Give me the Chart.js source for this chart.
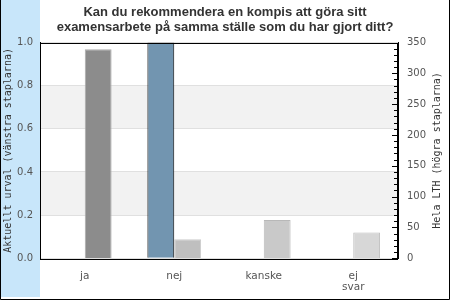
<!DOCTYPE html>
<html>
<head>
<meta charset="utf-8">
<script src="https://cdn.jsdelivr.net/npm/chart.js@4"></script>
<style>
  html, body { margin: 0; padding: 0; background: #fff; }
  #wrap { width: 450px; height: 300px; }
</style>
</head>
<body>
<div id="wrap"><canvas id="c" width="450" height="300"></canvas></div>
<script>
const categories = ['ja', 'nej', 'kanske', ['ej', 'svar']];
const currentValues = [0, 1.0, 0, 0];          // Aktuellt urval (left axis)
const lthValues = [339, 31, 62, 42];           // Hela LTH (right axis)
const leftTicks = [0, 0.2, 0.4, 0.6, 0.8, 1.0];
const rightTicks = [0, 50, 100, 150, 200, 250, 300, 350];
const titleLines = ['Kan du rekommendera en kompis att göra sitt', 'examensarbete på samma ställe som du har gjort ditt?'];
const leftTitle = 'Aktuellt urval (vänstra staplarna)';
const rightTitle = 'Hela LTH (högra staplarna)';

const lthColors = ['#8c8c8c', '#bfbfbf', '#c9c9c9', '#d7d7d7'];
const lthBorders = ['#aaaaaa', '#cccccc', '#b8b8b8', '#bdbdbd'];

const decor = {
  id: 'decor',
  beforeDraw(chart) {
    const ctx = chart.ctx;
    ctx.save();
    ctx.fillStyle = '#fff';
    ctx.fillRect(0, 0, 450, 300);
    ctx.fillStyle = '#c8e6fa';
    ctx.fillRect(1, 0, 39, 297);
    ctx.strokeStyle = '#000';
    ctx.lineWidth = 1;
    ctx.beginPath();
    ctx.moveTo(0.5, 0); ctx.lineTo(0.5, 299.5);
    ctx.lineTo(449.5, 299.5); ctx.lineTo(449.5, 0);
    ctx.stroke();
    const a = chart.chartArea, y = chart.scales.y;
    ctx.fillStyle = '#f2f2f2';
    [[0.2, 0.4], [0.6, 0.8]].forEach(([lo, hi]) => {
      const y1 = y.getPixelForValue(hi), y2 = y.getPixelForValue(lo);
      ctx.fillRect(a.left, y1, a.right - a.left, y2 - y1);
    });
    ctx.restore();
  },
  afterDraw(chart) {
    const ctx = chart.ctx;
    const a = chart.chartArea, y2 = chart.scales.y2;
    ctx.save();
    ctx.strokeStyle = '#000';
    ctx.lineWidth = 1;
    ctx.strokeRect(Math.round(a.left) + 0.5, Math.round(a.top) + 0.5, Math.round(a.right - a.left) - 1, Math.round(a.bottom - a.top));
    ctx.beginPath();
    for (let v = 0; v <= y2.max; v += 10) {
      const py = Math.round(y2.getPixelForValue(v)) + 0.5;
      const len = (v % 50 === 0) ? 6 : 4;
      ctx.moveTo(Math.round(a.right) - len, py);
      ctx.lineTo(Math.round(a.right), py);
    }
    ctx.stroke();
    ctx.translate(437, (a.top + a.bottom) / 2);
    ctx.rotate(-Math.PI / 2);
    ctx.font = '10px "DejaVu Sans Mono"';
    ctx.fillStyle = '#333';
    ctx.textAlign = 'center';
    ctx.textBaseline = 'middle';
    ctx.fillText(rightTitle, 0, 0);
    ctx.restore();
  }
};

new Chart(document.getElementById('c'), {
  type: 'bar',
  data: {
    labels: categories,
    datasets: [
      {
        label: leftTitle,
        data: currentValues,
        yAxisID: 'y',
        backgroundColor: '#7295b0',
        borderColor: '#000',
        borderWidth: ctx => (ctx.raw > 0 ? 1 : 0),
        borderSkipped: 'bottom'
      },
      {
        label: rightTitle,
        data: lthValues,
        yAxisID: 'y2',
        backgroundColor: lthColors,
        borderColor: lthBorders,
        borderWidth: 1,
        borderSkipped: 'bottom'
      }
    ]
  },
  plugins: [decor],
  options: {
    responsive: false,
    animation: false,
    devicePixelRatio: 1,
    categoryPercentage: 0.6,
    barPercentage: 1.0,
    layout: { padding: 0 },
    plugins: {
      legend: { display: false },
      tooltip: { enabled: false },
      title: {
        display: true,
        text: titleLines,
        color: '#333',
        font: { family: '"Liberation Sans", Arial, sans-serif', size: 13, weight: 'bold', lineHeight: '15px' },
        padding: { top: 5, bottom: 7.5 }
      }
    },
    scales: {
      x: {
        grid: { display: false, drawTicks: false },
        border: { display: false },
        ticks: {
          color: '#555',
          font: { family: 'DejaVu Sans', size: 10.5, lineHeight: '10.5px' },
          padding: 13,
          maxRotation: 0,
          autoSkip: false
        },
        afterFit(s) { s.height = 41.7; }
      },
      y: {
        position: 'left',
        min: 0, max: 1,
        afterBuildTicks(s) { s.ticks = leftTicks.map(v => ({ value: v })); },
        grid: { color: '#e0e0e0', drawTicks: false },
        border: { color: '#000' },
        ticks: {
          color: '#555',
          font: { family: 'DejaVu Sans', size: 10 },
          padding: 7,
          callback: v => v.toFixed(1)
        },
        title: {
          display: true,
          text: leftTitle,
          color: '#333',
          font: { family: 'DejaVu Sans Mono', size: 10 },
          padding: { top: 2.5, bottom: 0 }
        },
        afterFit(s) { s.width = 40; }
      },
      y2: {
        position: 'right',
        min: 0, max: 350,
        afterBuildTicks(s) { s.ticks = rightTicks.map(v => ({ value: v })); },
        grid: { display: false, drawTicks: false },
        border: { color: '#000' },
        ticks: {
          color: '#555',
          font: { family: 'DejaVu Sans', size: 10 },
          padding: 9
        },
        afterFit(s) { s.width = 52; }
      }
    }
  }
});
</script>
</body>
</html>
